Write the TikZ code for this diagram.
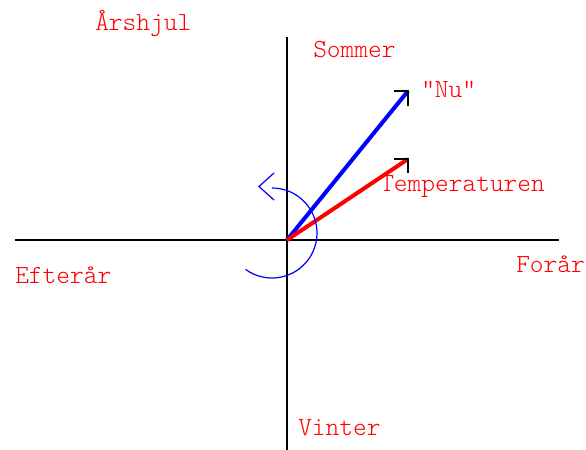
\documentclass[tikz,border=0pt]{standalone}
\usepackage{xcolor}
\usepackage{fontspec}
\newfontfamily\tynd{Latin Modern Mono Light}
\makeatletter
\renewcommand\small{%
  \@setfontsize\small{19.6pt}{23pt}%
}
\makeatother

\begin{document}
\begin{tikzpicture}[x=0.75pt, y=-0.75pt, every node/.style={font=\small\tynd, text=red, inner sep=0pt, anchor=base west}]
  \useasboundingbox (0,0) rectangle (586,450);
  % akser
  \coordinate (O) at (287,240);
  \coordinate (venstre) at (15,240);
  \coordinate (hojre) at (559,240);
  \coordinate (top) at (287,37);
  \coordinate (bund) at (287,450);
  \draw[line width=1.1pt] (venstre) -- (hojre);
  \draw[line width=1.1pt] (top) -- (bund);
  % vektorer
  \coordinate (nu) at (408,91);
  \coordinate (temp) at (408,159);
  \draw[blue, line width=3pt] (O) -- (nu);
  \draw[red, line width=3pt] (O) -- (temp);
  \draw[line width=0.8pt] (nu) ++(-14,0) -- (nu) -- ++(0,15);
  \draw[line width=0.8pt] (temp) ++(-14,0) -- (temp) -- ++(0,14);
  % omloebsretning
  \coordinate (midt) at (272,233);
  \draw[blue, line width=0.9pt] (midt) ++(126:45) arc[start angle=126, end angle=-90, radius=45];
  \draw[blue, line width=0.9pt, line cap=round] (274,173) -- (259,186.5) -- (274,200);
  % tekster
  \node (titel) at (95,30) {Årshjul};
  \node (sommer) at (313,57) {Sommer};
  \node (nutxt) at (421,97) {"Nu"};
  \node (temptxt) at (380,191) {Temperaturen};
  \node (efteraar) at (15,283) {Efterår};
  \node (foraar) at (516,272) {Forår};
  \node (vinter) at (298,435) {Vinter};
\end{tikzpicture}
\end{document}
